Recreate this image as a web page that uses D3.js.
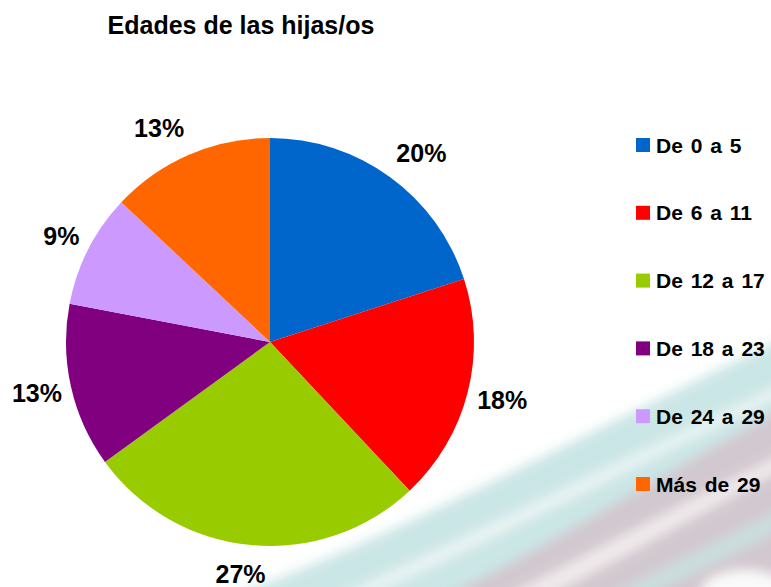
<!DOCTYPE html>
<html>
<head>
<meta charset="utf-8">
<script src="https://cdn.jsdelivr.net/npm/d3@7"></script>
<style>
  body { margin: 0; background: #fff; }
  text { font-family: "Liberation Sans", Arial, sans-serif; font-weight: bold; fill: #000; }
</style>
</head>
<body>
<svg id="chart" width="771" height="587"></svg>
<script>
const categories = ["De 0 a 5", "De 6 a 11", "De 12 a 17", "De 18 a 23", "De 24 a 29", "Más de 29"];
const values = [20, 18, 27, 13, 9, 13];
const colors = ["#0066cc", "#ff0000", "#99cc00", "#800080", "#cc99ff", "#ff6600"];
// small horizontal nudges of the percent labels
const labelNudge = [5, -9, -6, 10, 7, -12];

const svg = d3.select("#chart");
const cx = 270, cy = 342, radius = 204, labelR = 224;

// faint decorative swoosh in the lower right
const defs = svg.append("defs");
defs.append("filter").attr("id", "blur")
  .attr("x", "-20%").attr("y", "-20%").attr("width", "140%").attr("height", "140%")
  .append("feGaussianBlur").attr("stdDeviation", 6);
const bg = svg.append("g").attr("filter", "url(#blur)");
bg.append("path")
  .attr("d", "M220,600 C380,545 560,445 790,335 L790,600 Z")
  .attr("fill", "#c2e2e2").attr("opacity", 0.85);
bg.append("path")
  .attr("d", "M440,600 C550,545 660,475 790,405 L790,600 Z")
  .attr("fill", "#d6bcc6").attr("opacity", 0.7);
bg.append("path")
  .attr("d", "M330,600 C450,545 610,465 790,380 L790,392 C610,478 460,556 360,600 Z")
  .attr("fill", "#eef6f6").attr("opacity", 0.9);
bg.append("path")
  .attr("d", "M500,600 C600,548 700,495 790,450 L790,466 C700,512 610,565 540,600 Z")
  .attr("fill", "#f4eef0").attr("opacity", 0.9);
bg.append("path")
  .attr("d", "M600,600 C670,565 730,535 790,505 L790,525 C730,555 680,580 640,600 Z")
  .attr("fill", "#c8e4e4").attr("opacity", 0.8);
bg.append("ellipse")
  .attr("cx", 745).attr("cy", 595).attr("rx", 45).attr("ry", 25)
  .attr("fill", "#ffffff").attr("opacity", 0.9);

svg.append("text")
  .attr("x", 241).attr("y", 34)
  .attr("text-anchor", "middle")
  .style("font-size", "25px")
  .text("Edades de las hijas/os");

const pie = d3.pie().sort(null).value(d => d);
const arc = d3.arc().innerRadius(0).outerRadius(radius);
const arcs = pie(values);

const g = svg.append("g").attr("transform", `translate(${cx},${cy})`);
g.selectAll("path.slice")
  .data(arcs)
  .join("path")
  .attr("class", "slice")
  .attr("d", arc)
  .attr("fill", (d, i) => colors[i]);

const labels = g.selectAll("text.pct")
  .data(arcs)
  .join("text")
  .attr("class", "pct")
  .attr("text-anchor", "middle")
  .attr("dy", "0.35em")
  .style("font-size", "25px")
  .text(d => d.value + "%");

// push each label box outward so its near edge sits at labelR
labels.attr("transform", function(d, i) {
  const a = (d.startAngle + d.endAngle) / 2;
  const w = this.getComputedTextLength(), h = 18;
  const x = (labelR + w / 2) * Math.sin(a) + labelNudge[i];
  const y = -(labelR + h / 2) * Math.cos(a);
  return `translate(${x},${y})`;
});

const legend = svg.append("g").attr("transform", "translate(636,145)");
const item = legend.selectAll("g")
  .data(categories)
  .join("g")
  .attr("transform", (d, i) => `translate(0,${i * 67.8})`);
item.append("rect")
  .attr("x", 0).attr("y", -7)
  .attr("width", 14).attr("height", 14)
  .attr("fill", (d, i) => colors[i]);
item.append("text")
  .attr("x", 20).attr("dy", "0.36em")
  .style("font-size", "21px")
  .style("word-spacing", "2px")
  .text(d => d);
</script>
</body>
</html>
